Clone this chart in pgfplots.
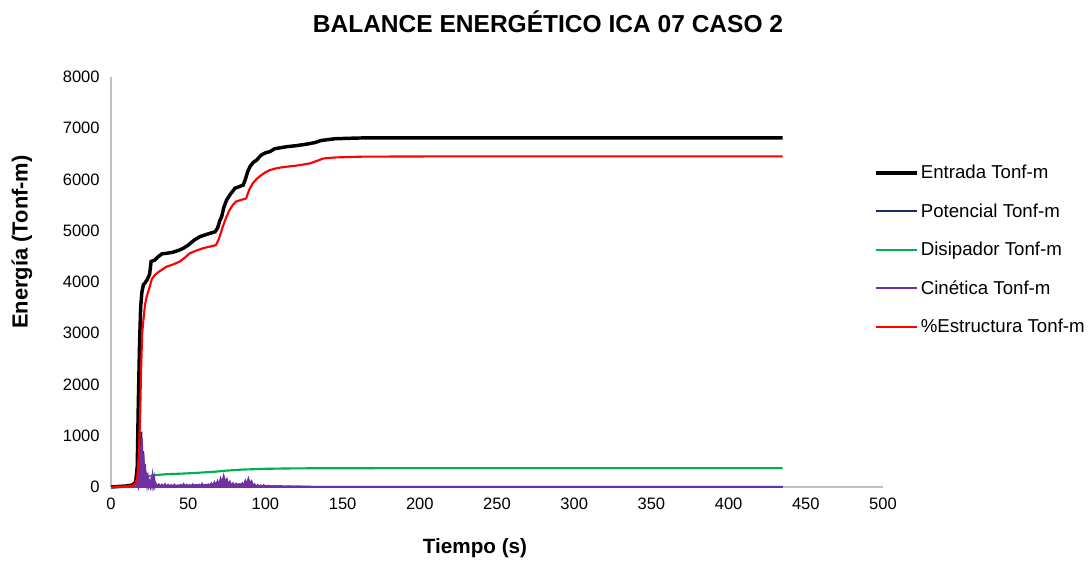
\documentclass[border=0pt]{standalone}
\usepackage{fontspec}
\setmainfont{Liberation Sans}
\usepackage{pgfplots}
\pgfplotsset{compat=1.18}

\definecolor{cEntrada}{HTML}{000000}
\definecolor{cPot}{HTML}{1F2A6B}
\definecolor{cDis}{HTML}{00B050}
\definecolor{cCin}{HTML}{7030A0}
\definecolor{cEst}{HTML}{FF0000}
\definecolor{axgray}{HTML}{BFBFBF}

\begin{document}
\begin{tikzpicture}
\useasboundingbox (-83.25pt,-57pt) rectangle (735pt,365.25pt);
\begin{axis}[
    at={(0pt,0pt)}, anchor=south west,
    scale only axis,
    width=579pt, height=307.5pt,
    xmin=0, xmax=500, ymin=0, ymax=8000,
    xtick={0,50,...,500},
    ytick={0,1000,...,8000},
    axis lines*=left,
    axis line style={axgray, line width=1.1pt, -},
    major tick length=0pt,
    tick label style={font=\fontsize{12.4}{14}\selectfont},
    xticklabel style={yshift=-5pt},
    yticklabel style={xshift=-5pt},
    /pgf/number format/assume math mode=true,
    scaled y ticks=false,
    yticklabel={\pgfmathprintnumber[fixed,1000 sep={}]{\tick}},
    clip=false,
    legend cell align=left,
    legend style={draw=none, fill=none, at={(0.988,0.79)}, anchor=north west,
        font=\fontsize{14}{16}\selectfont, row sep=14.1pt, inner sep=0pt,
        nodes={inner sep=1.5pt}},
    legend image code/.code={\draw[#1, fill=none] (0pt,0pt) -- (31pt,0pt);},
]
% Entrada
\addplot[cEntrada, line width=2.6pt] coordinates {
(0,0) (5,10) (10,20) (14,40) (16,100) (17,400) (17.7,1640) (18.5,2800) (19.2,3500)
(20,3800) (21,3950) (22,3980) (23.5,4050) (25,4150) (26,4400) (28.5,4430) (30,4480)
(33,4550) (36,4560) (40,4580) (44,4620) (47,4660) (50,4720) (54,4820) (57.6,4885)
(62,4930) (67.4,4980) (69,5050) (70.5,5200) (71.7,5275) (73,5450) (74.9,5600)
(77,5700) (80.3,5830) (83,5860) (85.6,5890) (87,6000) (88.5,6150) (90,6250)
(92,6330) (94.4,6380) (97,6470) (100,6520) (103,6545) (106,6600) (110,6620)
(113.8,6640) (120,6660) (126.7,6690) (132,6720) (136,6760) (139.7,6775) (145,6795)
(150,6800) (161,6810) (200,6812) (300,6812) (435,6812)};
\addlegendentry{Entrada Tonf-m}
% Potencial
\addplot[cPot, line width=1.5pt] coordinates {
(0,0) (17,0) (18,100) (19,500) (19.6,1080) (20.2,400) (20.8,700) (21.5,150)
(22.5,250) (23.5,50) (25,30) (27,100) (28,20) (35,20) (72,40) (73,100) (74,30)
(88,60) (90,20) (120,5) (435,0)};
\addlegendentry{Potencial Tonf-m}
% Disipador
\addplot[cDis, line width=1.6pt] coordinates {
(0,0) (15,0) (18,20) (20,80) (22,150) (24,200) (25,215) (30,235) (36,250) (45,260)
(55,275) (68,300) (75,320) (85,340) (100,355) (115,362) (133,366) (200,368)
(300,368) (435,368)};
\addlegendentry{Disipador Tonf-m}
% Cinetica
\addplot[cCin, line width=1.4pt, fill=cCin] coordinates {
(0,0) (16,0) (17,50) (17.5,10) (18,300) (18.5,100) (19,800) (19.5,400) (20,950)
(20.5,350) (21,650) (21.5,200) (22,450) (22.5,150) (23,280) (23.5,60) (24,160)
(24.5,30) (25,90) (25.5,20) (26,130) (26.5,40) (27,200) (27.5,60) (28,160) (28.5,20)
(29,70) (30,10) (31,50) (32,5) (33,45) (34,10) (35,55) (36,5) (37,40) (38,10) (39,35)
(40,5) (41,45) (42,10) (43,30) (44,5) (45,40) (46,10) (47,55) (48,5) (49,40) (50,10)
(51,35) (52,5) (53,50) (54,10) (55,40) (56,5) (57,45) (58,10) (59,60) (60,5) (61,40)
(62,10) (63,50) (64,15) (65,70) (66,20) (67,90) (68,30) (69,110) (70,40) (71,160)
(72,80) (73,210) (74,90) (75,150) (76,40) (77,100) (78,20) (79,70) (80,10) (81,60)
(82,10) (83,50) (84,15) (85,70) (86,30) (87,120) (88,60) (89,160) (90,70) (91,110)
(92,20) (93,50) (94,5) (95,40) (96,5) (97,30) (98,5) (99,35) (100,5) (102,25) (104,5)
(106,20) (108,5) (110,20) (112,5) (115,15) (118,5) (122,10) (125,0) (435,0)} \closedcycle;
\addlegendentry{Cinética Tonf-m}
% Estructura
\addplot[cEst, line width=1.6pt] coordinates {
(0,0) (5,5) (10,15) (14,30) (16,80) (17,200) (18,600) (18.8,1310) (19.5,2300)
(20.2,3000) (21,3260) (22,3550) (23.1,3710) (25,3900) (26.5,4060) (28.5,4140)
(31,4200) (36,4300) (40,4340) (44.6,4400) (48,4480) (51,4560) (55,4610) (59.7,4660)
(64,4690) (68,4720) (70,4850) (72.4,5080) (74.5,5250) (76.7,5400) (79,5510)
(81,5570) (84,5600) (87.5,5630) (89.5,5800) (91.8,5925) (94,6000) (96,6055)
(100,6140) (103,6185) (108,6225) (113.8,6250) (120,6270) (129,6315) (133,6360)
(137.6,6410) (145,6430) (161,6445) (200,6450) (300,6452) (435,6452)};
\addlegendentry{\%Estructura Tonf-m}
\end{axis}
\node[font=\bfseries\fontsize{18.4}{22}\selectfont] at (327.75pt,348.75pt) {BALANCE ENERGÉTICO ICA 07 CASO 2};
\node[font=\bfseries\fontsize{16.4}{19}\selectfont, rotate=90] at (-66.75pt,183.75pt) {Energía (Tonf-m)};
\node[font=\bfseries\fontsize{15.5}{18}\selectfont] at (273pt,-45.75pt) {Tiempo (s)};
\end{tikzpicture}
\end{document}
